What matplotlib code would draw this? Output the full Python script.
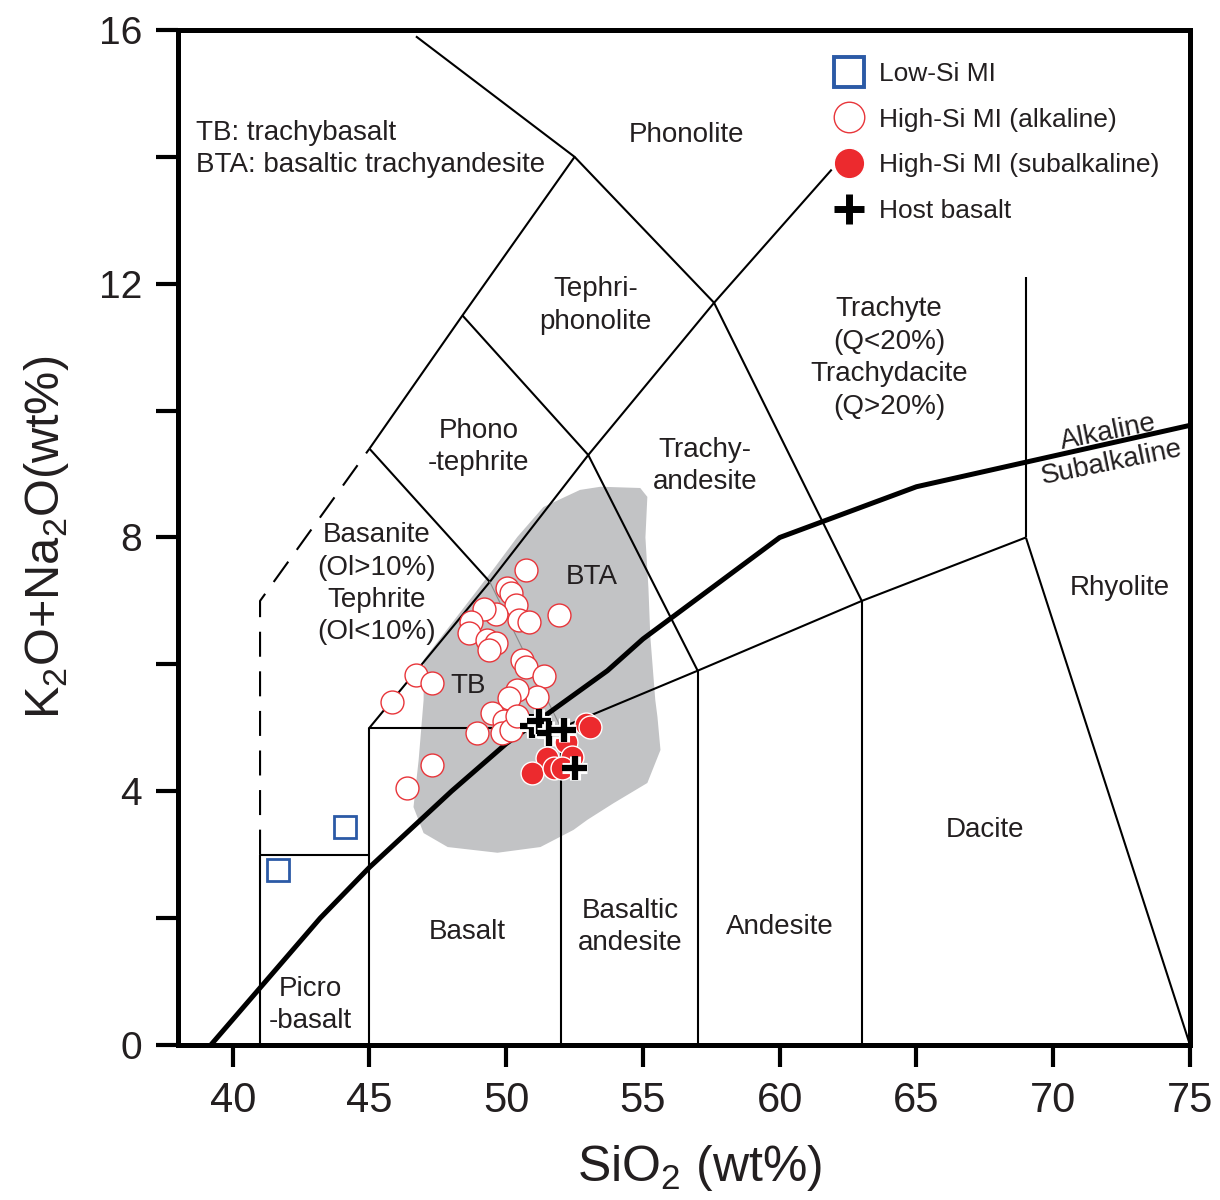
import matplotlib
matplotlib.use("Agg")
import matplotlib.pyplot as plt
import matplotlib.patheffects as pe
from matplotlib.lines import Line2D
from matplotlib.patches import Polygon

plt.rcParams['font.family'] = ['Liberation Sans', 'DejaVu Sans']
plt.rcParams['mathtext.fontset'] = 'custom'
plt.rcParams['mathtext.rm'] = 'Liberation Sans'

TXT = '#231f20'

# ---------------- data ----------------
# TAS field boundaries (solid thin lines)
boundaries = [
    [(41, 0), (41, 3), (45, 3)],
    [(45, 0), (45, 5), (52, 5)],
    [(52, 0), (52, 5)],
    [(52, 5), (57, 5.9), (63, 7), (69, 8)],
    [(57, 0), (57, 5.9)],
    [(63, 0), (63, 7)],
    [(69, 8), (75, 0)],
    [(69, 8), (69, 12.1)],
    [(45, 5), (49.4, 7.3), (53, 9.3), (57.6, 11.7), (61.9, 13.8)],
    [(45, 9.4), (48.4, 11.5), (52.5, 14), (46.7, 15.9)],
    [(45, 9.4), (49.4, 7.3)],
    [(48.4, 11.5), (53, 9.3), (57, 5.9)],
    [(52.5, 14), (57.6, 11.7), (63, 7)],
]
# faint TB / BTA boundary
tb_bta = [(49.4, 7.3), (52, 5)]
# dashed basanite limit
dashed_x = [41, 41, 45]
dashed_y = [3, 7, 9.4]
# alkaline / subalkaline divide
alk_x = [39.2, 40, 43.2, 45, 48, 50, 53.7, 55, 60, 65, 77.4]
alk_y = [0, 0.4, 2.0, 2.8, 4.0, 4.75, 5.9, 6.4, 8.0, 8.8, 10.0]

# grey field (literature data)
grey_x = [46.98, 47.8, 48.8, 49.6, 50.41, 51.36, 52.7, 53.45, 54.9, 55.16, 55.09,
          55.2, 55.27, 55.45, 55.53, 55.64, 55.16, 53.92, 52.97, 52.46, 51.25,
          49.68, 47.86, 46.98, 46.61, 46.8, 46.98]
grey_y = [6.07, 6.53, 7.09, 7.54, 8.01, 8.48, 8.75, 8.8, 8.78, 8.64, 8.0,
          7.2, 6.43, 5.44, 5.17, 4.65, 4.13, 3.81, 3.55, 3.39, 3.12,
          3.03, 3.12, 3.34, 3.75, 4.5, 5.44]

# samples
lowsi_x = [44.10, 41.67]
lowsi_y = [3.44, 2.76]

alk_mi_x = [50.71, 50.04, 50.16, 50.34, 49.61, 49.18, 48.70, 48.64, 49.31, 49.61,
            49.36, 50.46, 50.83, 51.92, 50.58, 50.71, 51.37, 51.13, 50.40, 50.09,
            49.49, 49.91, 49.85, 48.94, 46.69, 47.30, 45.83, 47.30, 46.38, 50.16,
            50.40]
alk_mi_y = [7.48, 7.20, 7.12, 6.94, 6.80, 6.88, 6.67, 6.49, 6.38, 6.33,
            6.23, 6.70, 6.67, 6.78, 6.07, 5.96, 5.81, 5.49, 5.60, 5.47,
            5.23, 5.10, 4.91, 4.91, 5.83, 5.70, 5.41, 4.41, 4.05, 4.97,
            5.18]

sub_mi_x = [52.93, 53.08, 52.17, 51.50, 52.41, 50.95, 51.74, 52.05]
sub_mi_y = [5.06, 5.02, 4.78, 4.52, 4.54, 4.28, 4.36, 4.36]

host_x = [50.95, 51.19, 51.56, 52.10, 52.50]
host_y = [5.03, 5.10, 4.91, 4.97, 4.37]

x_ticks = [40, 45, 50, 55, 60, 65, 70, 75]
y_ticks = [0, 2, 4, 6, 8, 10, 12, 14, 16]
y_ticklabels = ['0', '', '4', '', '8', '', '12', '', '16']

# field labels: (text, x, y)
field_labels = [
    ('Phonolite', 56.59, 14.34),
    ('Tephri-\nphonolite', 53.26, 11.66),
    ('Phono\n-tephrite', 48.99, 9.43),
    ('Trachy-\nandesite', 57.28, 9.13),
    ('Trachyte\n(Q<20%)\nTrachydacite\n(Q>20%)', 64.0, 10.83),
    ('Basanite\n(Ol>10%)\nTephrite\n(Ol<10%)', 45.26, 7.27),
    ('BTA', 53.12, 7.38),
    ('TB', 48.62, 5.66),
    ('Rhyolite', 72.44, 7.20),
    ('Dacite', 67.51, 3.39),
    ('Andesite', 60.02, 1.86),
    ('Basaltic\nandesite', 54.54, 1.86),
    ('Basalt', 48.59, 1.78),
    ('Picro\n-basalt', 42.85, 0.63),
]

# ---------------- figure ----------------
fig = plt.figure(figsize=(12.2, 12), dpi=100)
ax = fig.add_axes([0.1459, 0.1292, 0.8295, 0.8458])
ax.set_xlim(38, 75)
ax.set_ylim(0, 16)

ax.add_patch(Polygon(list(zip(grey_x, grey_y)), closed=True,
                     facecolor='#c2c3c5', edgecolor='none', zorder=1))

for seg in boundaries:
    xs, ys = zip(*seg)
    ax.plot(xs, ys, color='black', lw=1.5, zorder=2, solid_capstyle='butt')
ax.plot(*zip(*tb_bta), color='#8a8a8a', lw=0.8, zorder=2)
ax.plot(dashed_x, dashed_y, color='black', lw=1.5, dashes=(12, 7), zorder=2)
ax.plot(alk_x, alk_y, color='black', lw=3.6, zorder=2.5)

ms = 16.5
ax.plot(lowsi_x, lowsi_y, ls='none', marker='s', ms=16, mfc='none',
        mec='#2b5aa6', mew=2.0, zorder=3)
ax.plot(alk_mi_x, alk_mi_y, ls='none', marker='o', ms=ms, mfc='white',
        mec='#e8353a', mew=1.0, zorder=3)
ax.plot(sub_mi_x, sub_mi_y, ls='none', marker='o', ms=ms, mfc='#ec2a2e',
        mec='white', mew=1.0, zorder=4)
ax.plot(host_x, host_y, ls='none', marker='+', ms=17.5, mec='black', mew=4.5,
        zorder=5, path_effects=[pe.withStroke(linewidth=8, foreground='white')])

for t, x, y in field_labels:
    ax.text(x, y, t, ha='center', va='center', fontsize=20, color=TXT,
            linespacing=1.32, zorder=6)

ax.text(72.0, 9.66, 'Alkaline', rotation=11.5, ha='center', va='center',
        rotation_mode='anchor', fontsize=20, color=TXT, zorder=6)
ax.text(72.15, 9.17, 'Subalkaline', rotation=11.5, ha='center', va='center',
        rotation_mode='anchor', fontsize=20, color=TXT, zorder=6)

ax.text(0.0178, 0.883, 'TB: trachybasalt\nBTA: basaltic trachyandesite',
        transform=ax.transAxes, ha='left', va='center', fontsize=20,
        color=TXT, linespacing=1.32)

# legend
handles = [
    Line2D([], [], ls='none', marker='s', ms=21, mfc='none', mec='#2b5aa6', mew=2.8),
    Line2D([], [], ls='none', marker='o', ms=22, mfc='white', mec='#e8353a', mew=1.0),
    Line2D([], [], ls='none', marker='o', ms=22, mfc='#ec2a2e', mec='white', mew=1.0),
    Line2D([], [], ls='none', marker='+', ms=21, mec='black', mew=5),
]
labels = ['Low-Si MI', 'High-Si MI (alkaline)', 'High-Si MI (subalkaline)', 'Host basalt']
leg = ax.legend(handles, labels, loc='upper left', bbox_to_anchor=(0.637, 0.979),
                frameon=False, fontsize=19, handlelength=1.2, handletextpad=0.55,
                labelspacing=0.82, borderaxespad=0)
for txt in leg.get_texts():
    txt.set_color(TXT)

# axes styling
for s in ax.spines.values():
    s.set_linewidth(3.6)
ax.set_xticks(x_ticks)
ax.set_xticklabels([str(v) for v in x_ticks])
ax.set_yticks(y_ticks)
ax.set_yticklabels(y_ticklabels)
ax.tick_params(direction='out', length=16, width=3, pad=10, labelsize=28,
               labelcolor=TXT)
for lab in ax.get_xticklabels():
    lab.set_family(['Liberation Sans Narrow', 'Liberation Sans'])
    lab.set_fontsize(30)

ax.set_xlabel(r'SiO$_\mathregular{2}$ (wt%)', fontsize=36, color=TXT,
              family=['Liberation Sans Narrow', 'Liberation Sans'], labelpad=16)
ax.xaxis.label.set_x(0.515)
ax.set_ylabel(r'K$_\mathregular{2}$O+Na$_\mathregular{2}$O(wt%)', fontsize=35,
              color=TXT, family=['Liberation Sans Narrow', 'Liberation Sans'],
              labelpad=20)

fig.savefig('out.png', dpi=100)
